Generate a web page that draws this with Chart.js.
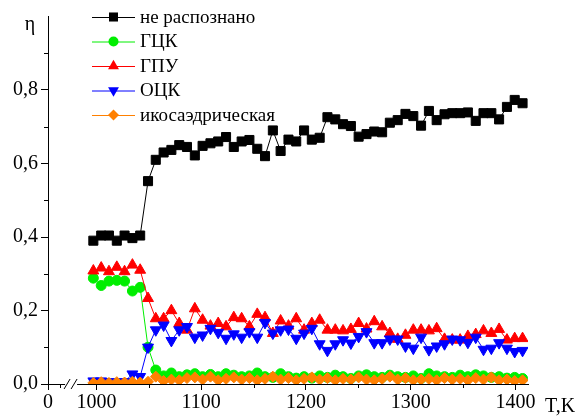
<!DOCTYPE html>
<html>
<head>
<meta charset="utf-8">
<script src="https://cdn.jsdelivr.net/npm/chart.js@4/dist/chart.umd.min.js"></script>
<style>
  body { margin: 0; background: #fff; }
  canvas { display: block; }
</style>
</head>
<body>
<canvas id="chart1" width="580" height="416"></canvas>
<script>
// data
var temps = [997, 1004.5, 1011.9, 1019.4, 1026.8, 1034.3, 1041.7, 1049.2, 1056.6, 1064.1,
    1071.5, 1079, 1086.4, 1093.9, 1101.3, 1108.8, 1116.2, 1123.7, 1131.1, 1138.6,
    1146, 1153.5, 1160.9, 1168.4, 1175.8, 1183.3, 1190.7, 1198.2, 1205.6, 1213.1,
    1220.5, 1228, 1235.4, 1242.9, 1250.3, 1257.8, 1265.2, 1272.7, 1280.1, 1287.6,
    1295, 1302.5, 1309.9, 1317.4, 1324.8, 1332.3, 1339.7, 1347.2, 1354.6, 1362.1,
    1369.5, 1377, 1384.4, 1391.9, 1399.3, 1406.8];

var unknown = [0.39, 0.404, 0.404, 0.39, 0.404, 0.397, 0.404,
    0.552, 0.61, 0.63, 0.637, 0.65, 0.645, 0.622, 0.648, 0.655, 0.66, 0.672, 0.645, 0.66,
    0.664, 0.64, 0.62, 0.69, 0.634, 0.665, 0.66, 0.69, 0.665, 0.67,
    0.726, 0.72, 0.707, 0.702, 0.673, 0.68, 0.687, 0.685, 0.711, 0.718, 0.735, 0.729, 0.703,
    0.743, 0.718, 0.734, 0.737, 0.737, 0.739, 0.716, 0.737, 0.737, 0.72, 0.754, 0.773, 0.764];

var fcc = [0.288, 0.268, 0.28, 0.282, 0.28, 0.253, 0.263,
    0.1, 0.038, 0.022, 0.03, 0.02, 0.025, 0.028, 0.02, 0.026, 0.02, 0.028, 0.024, 0.02,
    0.022, 0.03, 0.02, 0.018, 0.028, 0.02, 0.016, 0.02, 0.016, 0.022,
    0.018, 0.024, 0.02, 0.015, 0.022, 0.025, 0.02, 0.018, 0.024, 0.02, 0.018, 0.022, 0.015,
    0.028, 0.022, 0.02, 0.018, 0.024, 0.02, 0.025, 0.022, 0.018, 0.02, 0.016, 0.018, 0.015];

var hcp = [0.308, 0.316, 0.306, 0.318, 0.306, 0.324, 0.31,
    0.233, 0.178, 0.178, 0.2, 0.165, 0.147, 0.205, 0.174, 0.158, 0.165, 0.156, 0.181, 0.178,
    0.156, 0.19, 0.181, 0.138, 0.172, 0.158, 0.178, 0.147, 0.165, 0.174,
    0.147, 0.147, 0.145, 0.149, 0.165, 0.15, 0.17, 0.156, 0.138, 0.122, 0.133, 0.147, 0.147,
    0.145, 0.151, 0.122, 0.12, 0.12, 0.13, 0.135, 0.145, 0.138, 0.149, 0.12, 0.124, 0.124];

var bcc = [0.008, 0.008, 0.006, 0.005, 0.006, 0.027, 0.02,
    0.1, 0.147, 0.16, 0.118, 0.147, 0.156, 0.127, 0.133, 0.151, 0.14, 0.124, 0.136, 0.127,
    0.142, 0.127, 0.167, 0.138, 0.147, 0.149, 0.124, 0.138, 0.151, 0.109,
    0.091, 0.109, 0.12, 0.111, 0.129, 0.142, 0.112, 0.112, 0.122, 0.122, 0.103, 0.097, 0.127,
    0.093, 0.103, 0.109, 0.122, 0.12, 0.113, 0.127, 0.094, 0.097, 0.112, 0.097, 0.088, 0.091];

var ico = [0.003, 0.005, 0.003, 0.005, 0.004, 0.006, 0.004,
    0.006, 0.02, 0.008, 0.012, 0.01, 0.016, 0.018, 0.012, 0.02, 0.01, 0.014, 0.018, 0.012,
    0.016, 0.01, 0.014, 0.02, 0.012, 0.016, 0.01, 0.014, 0.018, 0.012,
    0.016, 0.01, 0.014, 0.012, 0.018, 0.012, 0.01, 0.014, 0.02, 0.012, 0.016, 0.01, 0.012,
    0.014, 0.01, 0.016, 0.012, 0.014, 0.01, 0.016, 0.012, 0.018, 0.01, 0.012, 0.008, 0.01];

var seriesNames = ['не распознано', 'ГЦК', 'ГПУ', 'ОЦК', 'икосаэдрическая'];
var xMajor = [953.7, 1000, 1100, 1200, 1300, 1400];
var xMajorLabels = ['0', '1000', '1100', '1200', '1300', '1400'];
var xMinor = [965, 1050, 1150, 1250, 1350];
var yMajor = [0, 0.2, 0.4, 0.6, 0.8];
var yMinor = [0.1, 0.3, 0.5, 0.7, 0.9];

var FONT = '"Liberation Serif", "Times New Roman", Times, serif';

function pts(vals) {
    return vals.map(function (v, i) { return { x: temps[i], y: v }; });
}

function makeSet(label, vals, color, style, radius, rotation, order) {
    return {
        label: label,
        data: pts(vals),
        borderColor: color,
        backgroundColor: color,
        borderWidth: 1,
        pointStyle: style,
        pointRadius: radius,
        pointRotation: rotation,
        pointBorderWidth: 1,
        pointBorderColor: color,
        pointBackgroundColor: color,
        order: order
    };
}

// simple marker drawing for the hand-made legend
function marker(ctx, style, rot, x, y, r) {
    ctx.beginPath();
    if (style === 'rect') {
        var s = r * Math.SQRT1_2;
        ctx.rect(x - s, y - s, 2 * s, 2 * s);
    } else if (style === 'circle') {
        ctx.arc(x, y, r, 0, Math.PI * 2);
    } else if (style === 'triangle') {
        var d = rot ? -1 : 1;
        var h = r * 0.866;
        ctx.moveTo(x, y - d * r);
        ctx.lineTo(x + h, y + d * r * 0.5);
        ctx.lineTo(x - h, y + d * r * 0.5);
        ctx.closePath();
    } else {
        ctx.moveTo(x - r, y);
        ctx.lineTo(x, y - r);
        ctx.lineTo(x + r, y);
        ctx.lineTo(x, y + r);
        ctx.closePath();
    }
    ctx.fill();
}

var decor = {
    id: 'decor',
    afterDraw: function (chart) {
        var ctx = chart.ctx;
        var xs = chart.scales.x, ys = chart.scales.y;
        var base = ys.getPixelForValue(0);
        var left = xs.left;
        ctx.save();
        ctx.strokeStyle = '#000';
        ctx.fillStyle = '#000';
        ctx.lineWidth = 1;
        // minor ticks
        xMinor.forEach(function (v) {
            var px = Math.round(xs.getPixelForValue(v)) + 0.5;
            ctx.beginPath(); ctx.moveTo(px, base); ctx.lineTo(px, base + 4); ctx.stroke();
        });
        yMinor.forEach(function (v) {
            var py = Math.round(ys.getPixelForValue(v)) + 0.5;
            ctx.beginPath(); ctx.moveTo(left - 4, py); ctx.lineTo(left, py); ctx.stroke();
        });
        // axis break
        var bx = xs.getPixelForValue(970);
        ctx.fillStyle = '#fff';
        ctx.fillRect(bx, base - 2, 12, 4);
        ctx.beginPath();
        ctx.moveTo(bx - 1, base + 5); ctx.lineTo(bx + 5, base - 5);
        ctx.moveTo(bx + 6, base + 5); ctx.lineTo(bx + 12, base - 5);
        ctx.stroke();
        // axis titles
        ctx.fillStyle = '#000';
        ctx.font = '20px ' + FONT;
        ctx.textAlign = 'center';
        ctx.textBaseline = 'alphabetic';
        ctx.fillText('η', 30, 30);
        ctx.textAlign = 'left';
        ctx.fillText('T,K', 545, 412);
        // legend
        ctx.font = '19px ' + FONT;
        ctx.textBaseline = 'middle';
        chart.data.datasets.forEach(function (ds, i) {
            var y = 17 + i * 24.5;
            ctx.strokeStyle = ds.borderColor;
            ctx.beginPath(); ctx.moveTo(92, y + 0.5); ctx.lineTo(135, y + 0.5); ctx.stroke();
            ctx.fillStyle = ds.borderColor;
            marker(ctx, ds.pointStyle, ds.pointRotation, 113.5, y, ds.pointRadius);
            ctx.fillStyle = '#000';
            ctx.fillText(ds.label, 140, y + 1);
        });
        ctx.restore();
    }
};

Chart.defaults.font.family = FONT;
Chart.defaults.font.size = 20;
Chart.defaults.color = '#000';

var chartEl = document.getElementById('chart1');
new Chart(chartEl, {
    type: 'line',
    data: {
        datasets: [
            makeSet(seriesNames[0], unknown, '#000000', 'rect', 6.4, 0, 4),
            makeSet(seriesNames[1], fcc, '#00ee00', 'circle', 5, 0, 3),
            makeSet(seriesNames[2], hcp, '#ff0000', 'triangle', 6.3, 0, 2),
            makeSet(seriesNames[3], bcc, '#0000ff', 'triangle', 6.3, 180, 1),
            makeSet(seriesNames[4], ico, '#ff8000', 'rectRot', 5.5, 0, 0)
        ]
    },
    options: {
        responsive: false,
        animation: false,
        layout: { padding: { left: 0, top: 16.5, right: 52, bottom: 0 } },
        plugins: {
            legend: { display: false },
            tooltip: { enabled: false }
        },
        scales: {
            x: {
                type: 'linear',
                min: 953.7,
                max: 1412,
                afterFit: function (s) { s.height = 32; },
                afterBuildTicks: function (s) {
                    s.ticks = xMajor.map(function (v) { return { value: v }; });
                },
                ticks: {
                    autoSkip: false,
                    maxRotation: 0,
                    padding: 1,
                    callback: function (v, i) { return xMajorLabels[i]; }
                },
                grid: { drawOnChartArea: false, tickLength: 6, color: '#000' },
                border: { color: '#000', width: 1 }
            },
            y: {
                min: 0,
                max: 1.0,
                afterFit: function (s) { s.width = 48; },
                afterBuildTicks: function (s) {
                    s.ticks = yMajor.map(function (v) { return { value: v }; });
                },
                ticks: {
                    padding: 3,
                    callback: function (v) { return v.toFixed(1).replace('.', ','); }
                },
                grid: { drawOnChartArea: false, tickLength: 7, color: '#000' },
                border: { color: '#000', width: 1 }
            }
        }
    },
    plugins: [decor]
});
</script>
</body>
</html>
